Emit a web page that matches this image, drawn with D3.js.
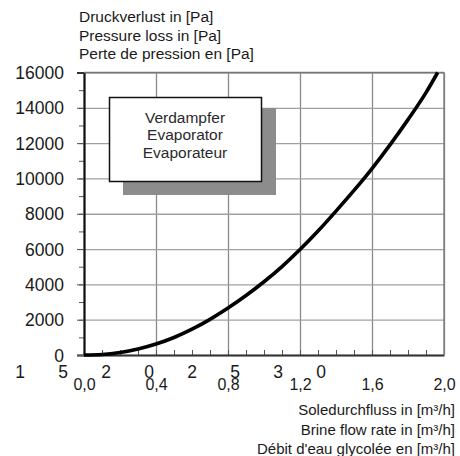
<!DOCTYPE html>
<html>
<head>
<meta charset="utf-8">
<script src="https://cdn.jsdelivr.net/npm/d3@7"></script>
<style>
  body { margin: 0; background: #fff; }
  svg { font-family: Arial, "Liberation Sans", sans-serif; }
</style>
</head>
<body>
<div id="chart"></div>
<script>
// brine flow rate [m3/h] and pressure loss [Pa]
var flowRate = [0, 0.1, 0.2, 0.3, 0.4, 0.5, 0.6, 0.7, 0.8, 0.9, 1.0, 1.1, 1.2, 1.3, 1.4, 1.5, 1.6, 1.7, 1.8, 1.9, 1.965];
var pressureLoss = [0, 30, 140, 340, 620, 990, 1460, 2020, 2660, 3370, 4150, 5010, 5970, 7020, 8150, 9320, 10560, 11900, 13330, 14860, 16000];

var xTicks = [0, 0.4, 0.8, 1.2, 1.6, 2.0];
var xMinor = d3.range(1, 20).map(d => d / 10);
var yTicks = [0, 2000, 4000, 6000, 8000, 10000, 12000, 14000, 16000];
var yMinor = d3.range(0, 17000, 1000);

var yTitle = ["Druckverlust in [Pa]", "Pressure loss in [Pa]", "Perte de pression en [Pa]"];
var xTitle = ["Soledurchfluss in [m\u00b3/h]", "Brine flow rate in [m\u00b3/h]", "D\u00e9bit d'eau glycol\u00e9e en [m\u00b3/h]"];
var boxText = ["Verdampfer", "Evaporator", "Evaporateur"];
// stray digits printed under the axis in the original scan
var strayDigits = ["1", "5", "2", "0", "2", "5", "3", "0"];

var svgWidth = 460;
var svgHeight = 456;

var svg = d3.select("#chart")
  .append("svg")
  .attr("width", svgWidth)
  .attr("height", svgHeight);

var x = d3.scaleLinear().domain([0, 2]).range([84, 444]);
var y = d3.scaleLinear().domain([0, 16000]).range([355, 72.5]);

// vertical grid
svg.append("g")
  .attr("transform", "translate(0," + y(0) + ")")
  .call(d3.axisBottom(x).tickValues(xTicks).tickSize(-(y(0) - y(16000))).tickFormat(""))
  .call(g => g.select(".domain").remove())
  .call(g => g.selectAll("line").attr("stroke", "#8a8a8a").attr("stroke-width", 1.3));

// horizontal grid
svg.append("g")
  .attr("transform", "translate(" + x(0) + ",0)")
  .call(d3.axisLeft(y).tickValues(yTicks).tickSize(-(x(2) - x(0))).tickFormat(""))
  .call(g => g.select(".domain").remove())
  .call(g => g.selectAll("line").attr("stroke", "#a0a0a0").attr("stroke-width", 1.3));

// minor x ticks pointing up into the plot
svg.append("g")
  .attr("transform", "translate(0," + y(0) + ")")
  .call(d3.axisBottom(x).tickValues(xMinor).tickSize(-5).tickFormat(""))
  .call(g => g.select(".domain").remove())
  .call(g => g.selectAll("line").attr("stroke", "#555").attr("stroke-width", 1));

// y ticks outward, minor and major
svg.append("g")
  .attr("transform", "translate(" + x(0) + ",0)")
  .call(d3.axisLeft(y).tickValues(yMinor).tickSize(5).tickFormat(""))
  .call(g => g.select(".domain").remove())
  .call(g => g.selectAll("line").attr("stroke", "#555").attr("stroke-width", 1));

var yAxis = svg.append("g")
  .attr("transform", "translate(" + x(0) + ",0)")
  .call(d3.axisLeft(y).tickValues(yTicks).tickSize(7).tickPadding(13).tickFormat(d3.format("d")));
yAxis.select(".domain").attr("stroke", "#111").attr("stroke-width", 2.2);
yAxis.selectAll("line").attr("stroke", "#555");
yAxis.selectAll("text").attr("font-size", 17.5).attr("fill", "#1a1a1a").attr("dy", "0.35em");

var xAxis = svg.append("g")
  .attr("transform", "translate(0," + y(0) + ")")
  .call(d3.axisBottom(x).tickValues(xTicks).tickSize(0).tickPadding(35)
    .tickFormat(d => d3.format(".1f")(d).replace(".", ",")));
xAxis.select(".domain").attr("stroke", "#333").attr("stroke-width", 1.8);
xAxis.selectAll("text").attr("font-size", 16).attr("fill", "#1a1a1a").attr("dy", "0");

// frame top and right
svg.append("line")
  .attr("x1", x(0)).attr("x2", x(2)).attr("y1", y(16000)).attr("y2", y(16000))
  .attr("stroke", "#777").attr("stroke-width", 1.3);
svg.append("line")
  .attr("x1", x(2)).attr("x2", x(2)).attr("y1", y(16000)).attr("y2", y(0))
  .attr("stroke", "#777").attr("stroke-width", 1.3);

// label box with shadow
svg.append("rect")
  .attr("x", 123).attr("y", 108).attr("width", 153).attr("height", 87)
  .attr("fill", "#8c8c8c");
svg.append("rect")
  .attr("x", 109.5).attr("y", 97.5).attr("width", 152).attr("height", 84)
  .attr("fill", "#fff").attr("stroke", "#111").attr("stroke-width", 1.5);
svg.append("g")
  .selectAll("text")
  .data(boxText)
  .enter()
  .append("text")
  .attr("x", 185)
  .attr("y", (d, i) => 122.5 + i * 17.5)
  .attr("text-anchor", "middle")
  .attr("font-size", 15.5)
  .attr("fill", "#2a2a2a")
  .text(d => d);

// curve
var line = d3.line()
  .x((d, i) => x(flowRate[i]))
  .y(d => y(d))
  .curve(d3.curveMonotoneX);

svg.append("path")
  .datum(pressureLoss)
  .attr("fill", "none")
  .attr("stroke", "#000")
  .attr("stroke-width", 3.6)
  .attr("d", line);

// axis titles
svg.append("g")
  .selectAll("text")
  .data(yTitle)
  .enter()
  .append("text")
  .attr("x", 79)
  .attr("y", (d, i) => 22 + i * 18.5)
  .attr("font-size", 15.5)
  .attr("fill", "#1a1a1a")
  .text(d => d);

svg.append("g")
  .selectAll("text")
  .data(xTitle)
  .enter()
  .append("text")
  .attr("x", 455)
  .attr("y", (d, i) => 415 + i * 19.5)
  .attr("text-anchor", "end")
  .attr("font-size", 15)
  .attr("fill", "#1a1a1a")
  .text(d => d);

svg.append("g")
  .selectAll("text")
  .data(strayDigits)
  .enter()
  .append("text")
  .attr("x", (d, i) => 20 + i * 43)
  .attr("y", 378)
  .attr("text-anchor", "middle")
  .attr("font-size", 17.5)
  .attr("fill", "#1a1a1a")
  .text(d => d);
</script>
</body>
</html>
